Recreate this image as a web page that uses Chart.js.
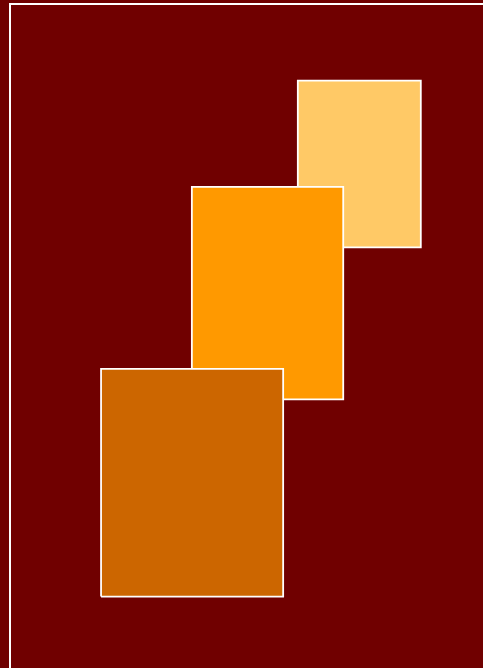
<!DOCTYPE html>
<html>
<head>
<meta charset="utf-8">
<script src="https://cdn.jsdelivr.net/npm/chart.js@4/dist/chart.umd.min.js"></script>
<style>
  html, body { margin: 0; padding: 0; background: #700000; overflow: hidden; }
  #wrap { width: 483px; height: 668px; position: relative; }
</style>
</head>
<body>
<div id="wrap"><canvas id="boxes"></canvas></div>
<script>
// rectangles, listed top-most first (Chart.js draws dataset 0 last)
const box_names = ["Box C", "Box B", "Box A"];
const box_colours = ["#CC6600", "#FF9900", "#FFC966"];
const x_from = [19.25, 38.45, 60.85];
const x_to = [57.75, 70.45, 86.85];
const y_from = [10.75, 40.45, 63.35];
const y_to = [45.05, 72.45, 88.45];

// closed outline of each box in data units
const outline = (i) => [
    { x: x_from[i], y: y_from[i] },
    { x: x_to[i], y: y_from[i] },
    { x: x_to[i], y: y_to[i] },
    { x: x_from[i], y: y_to[i] },
    { x: x_from[i], y: y_from[i] }
];

const datasets = box_names.map((name, i) => ({
    label: name,
    data: outline(i),
    showLine: true,
    fill: "shape",
    backgroundColor: box_colours[i],
    borderColor: "#ffffff",
    borderWidth: 1.8,
    pointRadius: 0,
    tension: 0
}));

const ctx = document.getElementById("boxes").getContext("2d");

new Chart(ctx, {
    type: "scatter",
    data: { datasets },
    options: {
        responsive: true,
        maintainAspectRatio: false,
        animation: false,
        events: [],
        layout: { padding: { left: 10, top: 4, right: 0, bottom: 0 } },
        plugins: {
            legend: { display: false },
            tooltip: { enabled: false }
        },
        scales: {
            x: {
                type: "linear",
                position: "top",
                min: 0,
                max: 100,
                ticks: { display: false },
                grid: { display: true, drawOnChartArea: false, drawTicks: false, color: "transparent", lineWidth: 2 },
                border: { display: true, color: "#ffffff", width: 2 }
            },
            y: {
                type: "linear",
                position: "left",
                min: 0,
                max: 100,
                ticks: { display: false },
                grid: { display: true, drawOnChartArea: false, drawTicks: false, color: "transparent", lineWidth: 2 },
                border: { display: true, color: "#ffffff", width: 2 }
            }
        }
    }
});
</script>
</body>
</html>
